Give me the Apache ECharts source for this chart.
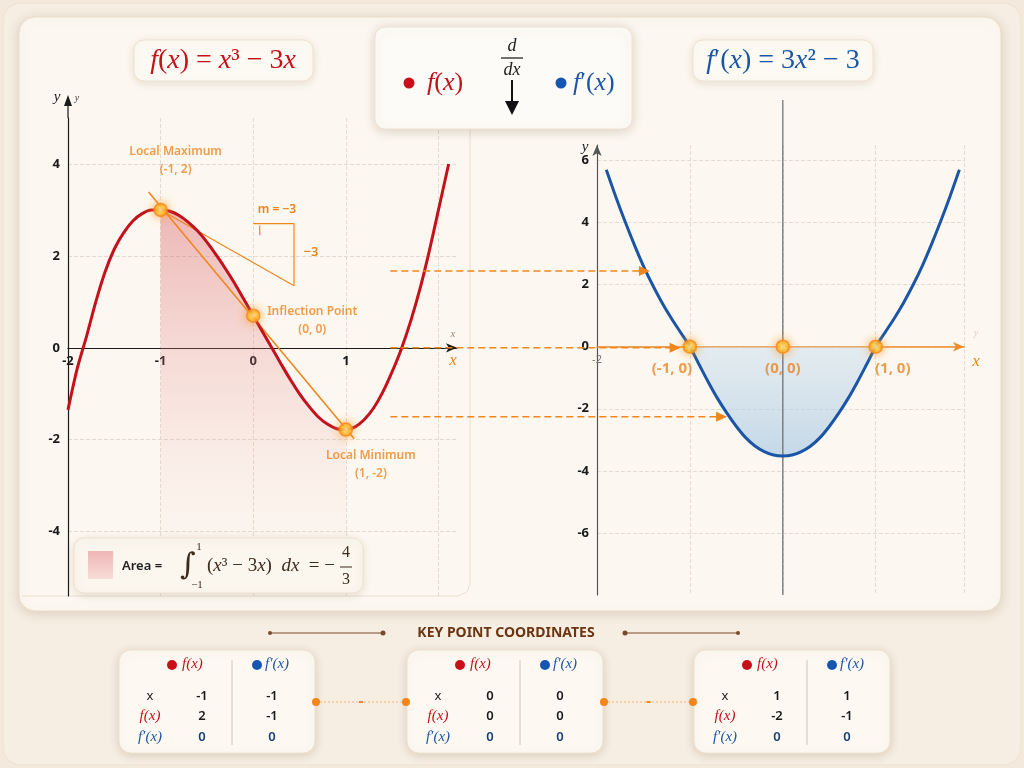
<!DOCTYPE html>
<html><head><meta charset="utf-8">
<script src="https://cdn.jsdelivr.net/npm/echarts@6/dist/echarts.min.js"></script>
<style>html,body{margin:0;padding:0;background:#f3e9dc;}#c{width:1024px;height:768px;}</style>
</head><body><div id="c"></div>
<script>
// ---------- data ----------
// f(x) curve as drawn (left panel)
const fX = [-2, -1.9, -1.8, -1.7, -1.6, -1.5, -1.4, -1.3, -1.2, -1.1, -1, -0.9, -0.8, -0.7, -0.6, -0.5, -0.4, -0.3, -0.2, -0.1,
            0, 0.1, 0.2, 0.3, 0.4, 0.5, 0.6, 0.7, 0.8, 0.9, 1, 1.1, 1.2, 1.3, 1.4, 1.5, 1.6, 1.7, 1.8, 1.9, 2, 2.11];
const fY = [-1.35, -0.45, 0.25, 1.0, 1.65, 2.15, 2.5, 2.76, 2.92, 3.0, 3.0, 2.97, 2.88, 2.73, 2.54, 2.3, 2.02, 1.72, 1.4, 1.05,
            0.7, 0.35, 0.0, -0.35, -0.69, -1.0, -1.27, -1.5, -1.66, -1.76, -1.78, -1.72, -1.56, -1.31, -0.96, -0.52, -0.02, 0.58, 1.28, 2.1, 3.0, 4.0];
// f'(x) curve as drawn (right panel)
const fpX = [-1.9, -1.8, -1.7, -1.6, -1.5, -1.4, -1.3, -1.2, -1.1, -1, -0.9, -0.8, -0.7, -0.6, -0.5, -0.4, -0.3, -0.2, -0.1,
             0, 0.1, 0.2, 0.3, 0.4, 0.5, 0.6, 0.7, 0.8, 0.9, 1, 1.1, 1.2, 1.3, 1.4, 1.5, 1.6, 1.7, 1.8, 1.9];
const fpY = [5.7, 4.85, 4.05, 3.3, 2.6, 1.98, 1.42, 0.92, 0.46, 0, -0.58, -1.15, -1.68, -2.15, -2.57, -2.93, -3.2, -3.38, -3.49,
             -3.52, -3.49, -3.38, -3.2, -2.93, -2.57, -2.15, -1.68, -1.15, -0.58, 0, 0.46, 0.92, 1.42, 1.98, 2.6, 3.3, 4.05, 4.85, 5.7];
// key points as drawn
const leftKeyPts = [[-1, 3.0], [0, 0.7], [1, -1.78]];
const leftKeyLabels = ['Local Maximum\n(-1, 2)', 'Inflection Point\n(0, 0)', 'Local Minimum\n(1, -2)'];
const rightKeyPts = [[-1, 0], [0, 0], [1, 0]];
const rightKeyLabels = ['(-1, 0)', '(0, 0)', '(1, 0)'];
// tangent / slope annotation lines (left panel)
const tangentLine = [[-1.13, 3.39], [1.09, -1.98]];
const slopeLine = [[-1, 3.0], [0.44, 1.35]];
const slopeTriangle = [[0, 2.7], [0.44, 2.7], [0.44, 1.35]];
const slopeTick = [[0.07, 2.66], [0.07, 2.45]];
// connector arrows between panels
const arrowFromX = 1.48;
const arrowLeftY = [1.67, 0, -1.5];
const arrowToX = [-1.43, -1.1, -0.6];
// key point table
const tableX = [-1, 0, 1];
const tableF = [2, 0, -2];
const tableFp = [0, 0, 0];
const table2X = [-1, 0, 1];
const table2F = [-1, 0, -1];
const table2Fp = [0, 0, 0];

// ---------- styling ----------
const RED = '#c3121c', BLUE = '#1b56a6', ORANGE = '#f0861c', ORTXT = '#ea8420';
const chart = echarts.init(document.getElementById('c'), null, {renderer: 'canvas'});

const glow = {
  color: new echarts.graphic.RadialGradient(0.5, 0.5, 0.5, [
    {offset: 0, color: '#fffbe2'}, {offset: 0.45, color: '#ffd23a'}, {offset: 1, color: '#f7901e'}]),
  borderColor: '#f28a1a', borderWidth: 1.5, shadowBlur: 10, shadowColor: 'rgba(255,150,30,0.95)'
};
const pairs = (xs, ys) => xs.map((x, i) => [x, ys[i]]);
const fData = pairs(fX, fY);
const fpData = pairs(fpX, fpY);
const fArea = fData.filter(p => p[0] >= -1 && p[0] <= 1);
const fpArea = fpData.filter(p => p[0] >= -1 && p[0] <= 1);
const gridLine = {show: true, lineStyle: {color: '#e2dbd0', type: 'dashed', width: 1}};
const LEFT_Y = [-5.4, 5], RIGHT_Y = [-8, 6.5];

const option = {
  backgroundColor: '#f3e9dc',
  animation: false,
  textStyle: {fontFamily: 'Noto Sans'},
  grid: [
    {left: 68, top: 118, width: 389, height: 478},
    {left: 597, top: 145, width: 367, height: 450}
  ],
  xAxis: [
    {type: 'value', gridIndex: 0, min: -2, max: 2.2, interval: 1,
     axisLine: {show: true, onZero: false, symbol: ['none', 'arrow'], symbolSize: [7, 11], lineStyle: {color: '#1a1a1a', width: 1.2}},
     axisTick: {show: false},
     axisLabel: {color: '#1a1a1a', fontWeight: 'bold', fontSize: 13, margin: 7,
       formatter: v => (Number.isInteger(v) && v <= 1) ? String(v) : ''},
     splitLine: Object.assign({}, gridLine, {showMinLine: false, showMaxLine: false})},
    {type: 'value', gridIndex: 1, min: -2, max: 1.95, interval: 1,
     axisLine: {show: true, onZero: false, symbol: ['none', 'arrow'], symbolSize: [7, 11], lineStyle: {color: '#ee8a2a', width: 1.6}},
     axisTick: {show: false},
     axisLabel: {color: '#777', fontSize: 11, margin: 8, formatter: v => v === -2 ? '-2' : ''},
     splitLine: Object.assign({}, gridLine, {showMinLine: false})}
  ],
  yAxis: [
    {type: 'value', gridIndex: 0, min: LEFT_Y[0], max: LEFT_Y[1], splitNumber: 5,
     axisLine: {show: true, onZero: false, lineStyle: {color: '#1a1a1a', width: 1.2}},
     axisTick: {show: false},
     axisLabel: {color: '#1a1a1a', fontWeight: 'bold', fontSize: 13, margin: 8, showMinLabel: false, showMaxLabel: false},
     splitLine: Object.assign({}, gridLine, {showMinLine: false, showMaxLine: false})},
    {type: 'value', gridIndex: 1, min: RIGHT_Y[0], max: RIGHT_Y[1], interval: 2,
     axisLine: {show: true, onZero: false, symbol: ['none', 'arrow'], symbolSize: [7, 11], lineStyle: {color: '#555', width: 1.2}},
     axisTick: {show: false},
     axisLabel: {color: '#1a1a1a', fontWeight: 'bold', fontSize: 13, margin: 8,
       formatter: v => (v === -8 || v > 6) ? '' : String(v)},
     splitLine: Object.assign({}, gridLine, {showMinLine: false, showMaxLine: false})}
  ],
  series: [
    {type: 'line', xAxisIndex: 0, yAxisIndex: 0, data: fArea, smooth: 0.3, showSymbol: false, z: 1,
     lineStyle: {width: 0}, silent: true,
     areaStyle: {origin: 'start', color: new echarts.graphic.LinearGradient(0, 0, 0, 1, [
       {offset: 0, color: 'rgba(212,78,86,0.55)'}, {offset: 0.5, color: 'rgba(234,150,152,0.3)'},
       {offset: 1, color: 'rgba(250,230,225,0.02)'}])}},
    {type: 'line', xAxisIndex: 0, yAxisIndex: 0, data: tangentLine, showSymbol: false, z: 3,
     lineStyle: {color: ORANGE, width: 1.6}},
    {type: 'line', xAxisIndex: 0, yAxisIndex: 0, data: slopeLine, showSymbol: false, z: 3,
     lineStyle: {color: ORANGE, width: 1.2}},
    {type: 'line', xAxisIndex: 0, yAxisIndex: 0, data: slopeTriangle, showSymbol: false, z: 3,
     lineStyle: {color: ORANGE, width: 1.2}},
    {type: 'line', xAxisIndex: 0, yAxisIndex: 0, data: slopeTick, showSymbol: false, z: 3,
     lineStyle: {color: ORANGE, width: 1.2}},
    {type: 'line', xAxisIndex: 0, yAxisIndex: 0, data: fData, smooth: 0.3, showSymbol: false, z: 4,
     lineStyle: {color: RED, width: 3}},
    {type: 'scatter', xAxisIndex: 0, yAxisIndex: 0, symbolSize: 13, z: 6, itemStyle: glow,
     label: {show: true, color: ORTXT, fontSize: 12, fontWeight: 600, lineHeight: 18},
     data: [
       {value: leftKeyPts[0], label: {position: 'top', distance: 5, offset: [15, -19], formatter: leftKeyLabels[0]}},
       {value: leftKeyPts[1], label: {position: 'inside', align: 'center', offset: [59, 5], formatter: leftKeyLabels[1]}},
       {value: leftKeyPts[2], label: {position: 'bottom', distance: 5, offset: [25, 5], formatter: leftKeyLabels[2]}}
     ]},
    {type: 'line', xAxisIndex: 1, yAxisIndex: 1, data: fpArea, smooth: 0.3, showSymbol: false, z: 1,
     lineStyle: {width: 0}, silent: true,
     areaStyle: {color: new echarts.graphic.LinearGradient(0, 0, 0, 1, [
       {offset: 0, color: 'rgba(205,224,238,0.75)'}, {offset: 1, color: 'rgba(165,198,226,0.9)'}])}},
    {type: 'line', xAxisIndex: 1, yAxisIndex: 1, data: [[0, RIGHT_Y[0]], [0, RIGHT_Y[1]]], showSymbol: false, z: 2,
     lineStyle: {color: '#6a6a6a', width: 1.2}},
    {type: 'line', xAxisIndex: 1, yAxisIndex: 1, data: fpData, smooth: 0.3, showSymbol: false, z: 4,
     lineStyle: {color: BLUE, width: 3}},
    {type: 'scatter', xAxisIndex: 1, yAxisIndex: 1, symbolSize: 13, z: 6, itemStyle: glow,
     label: {show: true, position: 'bottom', distance: 4, color: ORTXT, fontSize: 15, fontWeight: 'bold'},
     data: rightKeyPts.map((p, i) => ({value: p, label: {formatter: rightKeyLabels[i], offset: [[-18, 3], [0, 3], [17, 3]][i]}}))}
  ]
};
chart.setOption(option);

// move each x axis (line + labels) up to the y = 0 level through the axis offset
const zeroOffset = (gi, ymin) => chart.convertToPixel({gridIndex: gi}, [0, 0])[1] - chart.convertToPixel({gridIndex: gi}, [0, ymin])[1];
chart.setOption({xAxis: [{offset: zeroOffset(0, LEFT_Y[0])}, {offset: zeroOffset(1, RIGHT_Y[0])}]});

// ---------- decorations ----------
function txt(x, y, text, o) {
  o = o || {};
  const st = {text: text, fill: o.color || '#222', fontSize: o.size || 13, fontFamily: o.family || 'Noto Sans',
    fontWeight: o.weight || 'normal', fontStyle: o.style || 'normal',
    align: o.align || 'center', textAlign: o.align || 'center', verticalAlign: 'middle', textVerticalAlign: 'middle'};
  if (o.rich) st.rich = o.rich;
  return {type: 'text', x: x, y: y, z: o.z || 60, style: st};
}
function mathRich(color, size) {
  const base = {fontFamily: 'Liberation Serif', fontSize: size, fill: color, color: color};
  return {i: Object.assign({}, base, {fontStyle: 'italic'}), n: Object.assign({}, base)};
}
function box(x, y, w, h, o) {
  o = o || {};
  return {type: 'rect', z: o.z || 40, shape: {x: x, y: y, width: w, height: h, r: o.r || 10},
    style: {fill: o.fill || '#fdfaf4', stroke: o.stroke || '#eee2d1', lineWidth: 1,
      shadowBlur: o.blur == null ? 8 : o.blur, shadowColor: o.shadow || 'rgba(120,80,40,0.16)', shadowOffsetY: 2}};
}
function line(x1, y1, x2, y2, color, w, dash, z) {
  return {type: 'line', z: z || 45, shape: {x1: x1, y1: y1, x2: x2, y2: y2},
    style: {stroke: color, lineWidth: w || 1, lineDash: dash || null}};
}
function dot(x, y, r, color, z) {
  return {type: 'circle', z: z || 61, shape: {cx: x, cy: y, r: r}, style: {fill: color}};
}

const g = [];
// outer frame and main panel
g.push({type: 'rect', z: -20, shape: {x: 3, y: 3, width: 1018, height: 762, r: 18},
  style: {fill: '#f6eee3', stroke: '#efe2d0', lineWidth: 1}});
g.push({type: 'rect', z: -10, shape: {x: 19, y: 17, width: 982, height: 594, r: 16},
  style: {fill: '#fcf8f1', stroke: '#eadcc8', lineWidth: 1, shadowBlur: 12, shadowColor: 'rgba(120,80,40,0.2)', shadowOffsetY: 2}});
g.push({type: 'polyline', z: -9, shape: {points: [[470, 125], [470, 584], [467, 592], [458, 596], [22, 596]]},
  style: {stroke: 'rgba(140,110,80,0.18)', lineWidth: 1, fill: null}});

// axis extensions above the plot areas (left y axis arrow, right x = 0 line)
const lTop = chart.convertToPixel({gridIndex: 0}, [-2, LEFT_Y[1]]);
g.push(line(lTop[0], lTop[1], lTop[0], 104, '#1a1a1a', 1.2, null, 5));
g.push({type: 'polygon', z: 5, shape: {points: [[lTop[0] - 4, 106], [lTop[0], 95], [lTop[0] + 4, 106]]}, style: {fill: '#1a1a1a'}});
const rTop = chart.convertToPixel({gridIndex: 1}, [0, RIGHT_Y[1]]);
g.push(line(rTop[0], rTop[1], rTop[0], 100, '#6a6a6a', 1.2, null, 5));

// formula boxes
g.push(box(134, 40, 179, 41));
g.push(txt(223, 61, '{i|f}{n|(}{i|x}{n|) = }{i|x}{n|³ − 3}{i|x}', {rich: mathRich(RED, 28)}));
g.push(box(693, 40, 180, 41));
g.push(txt(783, 61, '{i|f}{n|′(}{i|x}{n|) = 3}{i|x}{n|² − 3}', {rich: mathRich(BLUE, 28)}));

// legend box
g.push(box(375, 27, 257, 102, {fill: '#fdfbf7', blur: 12, shadow: 'rgba(110,70,30,0.22)'}));
g.push(dot(409, 83, 5.5, '#c8101a'));
g.push(txt(427, 83, '{i|f}{n|(}{i|x}{n|)}', {align: 'left', rich: mathRich(RED, 26)}));
g.push(dot(561, 83, 5.5, '#1557b0'));
g.push(txt(573, 83, '{i|f}{n|′(}{i|x}{n|)}', {align: 'left', rich: mathRich(BLUE, 26)}));
g.push(txt(512, 46, '{i|d}', {rich: mathRich('#222', 18)}));
g.push(line(501, 58, 523, 58, '#222', 1.3, null, 61));
g.push(txt(512, 70, '{i|dx}', {rich: mathRich('#222', 18)}));
g.push(line(512, 80, 512, 104, '#111', 2, null, 61));
g.push({type: 'polygon', z: 61, shape: {points: [[505, 101], [519, 101], [512, 115]]}, style: {fill: '#111'}});

// axis names
g.push(txt(57, 97, '{i|y}', {rich: mathRich('#222', 15)}));
g.push(txt(77, 98, '{i|y}', {rich: mathRich('#444', 10)}));
g.push(txt(453, 361, '{i|x}', {rich: mathRich(ORANGE, 17)}));
g.push(txt(453, 334, '{i|x}', {rich: mathRich('#9a8a7a', 11)}));
g.push(txt(585, 147, '{i|y}', {rich: mathRich('#222', 15)}));
g.push(txt(976, 362, '{i|x}', {rich: mathRich(ORANGE, 17)}));
g.push(txt(976, 333, '{i|y}', {rich: mathRich('#d8cfc4', 10)}));

// slope annotation text
g.push(txt(277, 210, 'm = −3', {color: ORTXT, size: 12, weight: 600}));
g.push(txt(311, 252, '−3', {color: ORTXT, size: 13, weight: 600}));

// area legend box
g.push(box(74, 538, 289, 55, {fill: '#fbf6ee'}));
g.push({type: 'rect', z: 61, shape: {x: 88, y: 551, width: 25, height: 28},
  style: {fill: new echarts.graphic.LinearGradient(0, 0, 0, 1, [{offset: 0, color: '#efb6b6'}, {offset: 1, color: '#f8dcd8'}])}});
g.push(txt(122, 566, 'Area =', {align: 'left', size: 13, weight: 600, color: '#1f1f1f'}));
g.push(txt(188, 566, '∫', {family: 'DejaVu Serif', size: 30, color: '#3d2a1e'}));
g.push(txt(199, 547, '1', {family: 'Liberation Serif', size: 11, color: '#3d2a1e'}));
g.push(txt(197, 585, '−1', {family: 'Liberation Serif', size: 11, color: '#3d2a1e'}));
g.push(txt(207, 566, '{n|(}{i|x}{n|³ − 3}{i|x}{n|)  }{i|dx}{n|  = −}', {align: 'left', rich: mathRich('#3d2a1e', 19)}));
g.push(txt(346, 553, '4', {family: 'Liberation Serif', size: 16, color: '#3d2a1e'}));
g.push(line(340, 567, 352, 567, '#3d2a1e', 1, null, 61));
g.push(txt(346, 580, '3', {family: 'Liberation Serif', size: 16, color: '#3d2a1e'}));

// connector arrows between panels
arrowLeftY.forEach((yl, i) => {
  const s = chart.convertToPixel({gridIndex: 0}, [arrowFromX, yl]);
  const e = chart.convertToPixel({gridIndex: 1}, [arrowToX[i], 0]);
  const y = s[1], ex = e[0];
  g.push(line(s[0], y, ex - 8, y, ORANGE, 1.5, [7, 4], 8));
  g.push({type: 'polygon', z: 8, shape: {points: [[ex - 11, y - 5], [ex, y], [ex - 11, y + 5]]}, style: {fill: ORANGE}});
});

// bottom: key point coordinates
g.push(txt(506, 633, 'KEY POINT COORDINATES', {size: 14, weight: 'bold', color: '#6b3512'}));
g.push(line(270, 633, 383, 633, '#7a4a2a', 1, null, 55));
g.push(dot(270, 633, 2, '#7a4a2a'), dot(383, 633, 2.5, '#7a4a2a'));
g.push(line(625, 633, 738, 633, '#7a4a2a', 1, null, 55));
g.push(dot(625, 633, 2.5, '#7a4a2a'), dot(738, 633, 2, '#7a4a2a'));

const cardX = [119, 407, 694];
const fmt = v => String(v);
const ser = (color, size) => ({family: 'Liberation Serif', style: 'italic', color: color, size: size});
cardX.forEach((cx, k) => {
  const cy = 650;
  g.push(box(cx, cy, 196, 103, {fill: '#fdf9f2', r: 12, blur: 10, shadow: 'rgba(110,70,30,0.2)'}));
  g.push(dot(cx + 53, cy + 15, 5, '#c8101a'));
  g.push(txt(cx + 63, cy + 14, 'f(x)', Object.assign(ser(RED, 15), {align: 'left'})));
  g.push(line(cx + 113, cy + 10, cx + 113, cy + 95, '#cfc6bb', 1, null, 55));
  g.push(dot(cx + 138, cy + 15, 5, '#1557b0'));
  g.push(txt(cx + 146, cy + 14, 'f′(x)', Object.assign(ser(BLUE, 15), {align: 'left'})));
  g.push(txt(cx + 31, cy + 46, 'x', {size: 13, color: '#1b1b1b'}));
  g.push(txt(cx + 31, cy + 66, 'f(x)', ser(RED, 15)));
  g.push(txt(cx + 31, cy + 87, 'f′(x)', ser(BLUE, 15)));
  g.push(txt(cx + 83, cy + 46, fmt(tableX[k]), {size: 13, weight: 600, color: '#1b1b1b'}));
  g.push(txt(cx + 83, cy + 66, fmt(tableF[k]), {size: 13, weight: 600, color: '#1b1b1b'}));
  g.push(txt(cx + 83, cy + 87, fmt(tableFp[k]), {size: 13, weight: 600, color: '#1d3f78'}));
  g.push(txt(cx + 153, cy + 46, fmt(table2X[k]), {size: 13, weight: 600, color: '#1b1b1b'}));
  g.push(txt(cx + 153, cy + 66, fmt(table2F[k]), {size: 13, weight: 600, color: '#1b1b1b'}));
  g.push(txt(cx + 153, cy + 87, fmt(table2Fp[k]), {size: 13, weight: 600, color: '#1d3f78'}));
  if (k < 2) {
    const x1 = cx + 197, x2 = cardX[k + 1] - 1, yy = 702;
    g.push(line(x1, yy, x2, yy, 'rgba(240,134,28,0.55)', 1, [2, 2], 55));
    g.push(line((x1 + x2) / 2 - 2, yy, (x1 + x2) / 2 + 2, yy, ORANGE, 2, null, 56));
    g.push(dot(x1, yy, 4, ORANGE), dot(x2, yy, 4, ORANGE));
  }
});

chart.setOption({graphic: {elements: g}});
</script>
</body></html>
